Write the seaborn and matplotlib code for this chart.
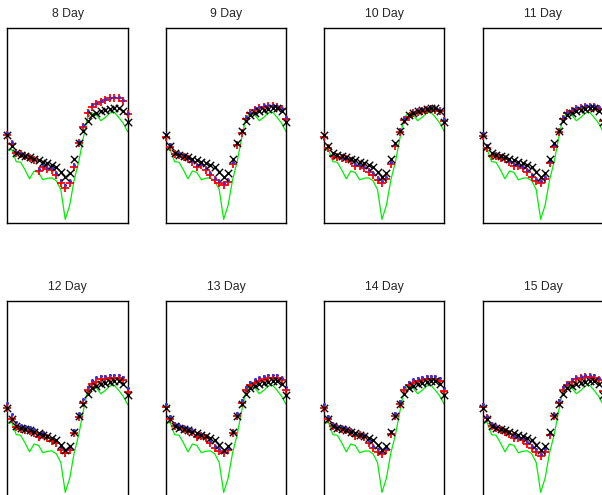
import matplotlib
matplotlib.use("Agg")
import matplotlib.pyplot as plt
import seaborn as sns
import pandas as pd

days = ["8 Day", "9 Day", "10 Day", "11 Day", "12 Day", "13 Day", "14 Day", "15 Day"]
hours = list(range(28))

# observed (green line) - same in every panel
observed = [37, 37.6, 31.3, 31, 27, 22.5, 26.5, 25.8, 22, 22.8, 23, 21.5, 17, 1.7,
            9, 22, 31, 43, 54, 56.3, 55.2, 52.3, 54, 56.3, 56.6, 54, 51, 46.7]

# black x series
model_x = [45, 39.5, 35.5, 34.8, 34.2, 33.5, 32.8, 32, 31.2, 30.5, 29.8, 28.5, 25.8, 23.3,
           25.5, 32.5, 40.8, 46.8, 52, 55.2, 56.5, 57.3, 57.8, 58.4, 58.8, 58.8, 57.3, 51.8]

# red + series, one per panel
red_8 = [45, 40.3, 35.9, 35, 34.2, 33, 32.1, 26.7, 28.7, 27.5, 27, 24.4, 20.5, 17.6,
         20.2, 28.7, 41, 48.9, 56.4, 59.5, 60.9, 62, 62.9, 63.8, 64.1, 64.1, 62.6, 55.7]
red_9 = [44.1, 39, 35.2, 34.7, 33.8, 32.5, 31, 28.7, 29.6, 27, 24.4, 21.9, 20.2, 19.3,
         21, 30, 39.8, 46, 53, 56, 57.8, 58.6, 59.5, 59.8, 59.8, 59.3, 58.3, 53]
red_10 = [43.9, 38.5, 34, 33.7, 33.2, 32.7, 31.5, 29.3, 28.9, 28, 25.9, 24.7, 22, 20.4,
          22.5, 30, 39.5, 46.3, 52.7, 54.4, 56, 57, 57.5, 57.8, 58.2, 58, 57.5, 52]
red_11 = [44.3, 38.3, 34.4, 34, 33.2, 32.7, 31, 29.3, 29, 28.1, 26, 23.5, 21.5, 20.4,
          22.5, 30.7, 39, 46.3, 53, 56.2, 57.5, 58.5, 59, 59.3, 59.3, 59.3, 58.5, 52]
red_12 = [44.8, 39.1, 35.4, 34, 33.7, 33.3, 32.3, 30.3, 31.1, 29.4, 28.3, 27.2, 23.4, 21.7,
          23.4, 32, 40.5, 47.4, 54.2, 57.3, 58.5, 59.7, 59.7, 60.2, 60.2, 60.2, 59.3, 53.3]
red_13 = [45.3, 39.1, 35.7, 35, 34, 33.3, 32.5, 30.3, 30.6, 29.4, 26.8, 24.3, 22.8, 21.7,
          23.4, 32, 40.9, 47.4, 54.2, 56.8, 57.9, 59, 59.6, 60.2, 60.2, 60.2, 59.3, 54.2]
red_14 = [45, 39.5, 35.7, 34.7, 34, 33.5, 32.5, 30.6, 30.9, 30.1, 27.2, 24.4, 22.5, 21.5,
          23.2, 31.8, 40.9, 47.2, 54, 56.6, 57.9, 58.6, 59.2, 59.7, 59.7, 59.7, 58.6, 53.5]
red_15 = [45.6, 39.7, 35.7, 34.5, 33.7, 32.8, 31.5, 29.4, 29.4, 28.5, 26.5, 24.5, 22.6, 20.3,
          22.6, 31.1, 40.9, 47.7, 54.2, 56.8, 58.5, 59.7, 60.2, 60.7, 60.7, 60.5, 59.3, 53.5]

# blue dot series, one per panel
blue_8 = [46, 41.2, 36.5, 35.5, 34.8, 33.6, 32.6, 27.5, 29.5, 28.2, 27.8, 25.5, 22, 19.3,
          21.5, 29.8, 42, 50, 57.2, 60.2, 61.5, 62.6, 63.4, 64.2, 64.5, 64.4, 63, 56.5]
blue_9 = [45.5, 40.5, 36, 35.5, 34.5, 33.3, 31.8, 29.5, 30.3, 27.8, 25.3, 23, 21.3, 20.5,
          22, 31, 41, 47, 54, 57, 58.6, 59.4, 60.2, 60.5, 60.5, 60, 59, 54]
blue_10 = [45, 39.5, 35, 34.5, 33.8, 33.2, 32, 30, 29.5, 28.5, 26.8, 25.5, 23, 21.5,
           23.3, 31, 40.5, 47.3, 53.5, 55.3, 56.8, 57.8, 58.3, 58.6, 59, 58.8, 58, 53]
blue_11 = [46, 40, 35.5, 35, 34, 33.5, 31.8, 30, 29.8, 28.8, 27, 24.5, 22.5, 21.5,
           23.5, 31.5, 40, 47.5, 54, 57, 58.5, 59.5, 60, 60.3, 60.3, 60.2, 59.3, 53]
blue_12 = [47.4, 41.9, 38, 36.2, 35.5, 35, 34, 31.8, 32.5, 30.8, 29.8, 28.7, 25, 23.2,
           25, 33.5, 42.3, 49.5, 56, 59.5, 60.7, 61.4, 61.6, 61.9, 61.9, 61.7, 60.8, 55]
blue_13 = [47, 40.8, 37, 36.2, 35.2, 34.5, 33.6, 31.5, 31.8, 30.6, 28, 25.5, 24, 23,
           24.6, 33.3, 42.3, 49, 55.8, 58.5, 59.6, 60.7, 61.3, 61.9, 61.9, 61.7, 60.6, 55.5]
blue_14 = [46.8, 41, 37, 35.8, 35, 34.5, 33.5, 31.6, 31.7, 31, 28.3, 25.5, 23.8, 22.8,
           24.5, 33, 42.3, 48.8, 55.5, 58.3, 59.6, 60.5, 61, 61.5, 61.6, 61.5, 60.3, 55]
blue_15 = [47, 41, 37, 35.5, 34.7, 33.8, 32.5, 30.4, 30.3, 29.4, 27.5, 25.5, 23.8, 21.5,
           23.7, 32.3, 42, 49, 55.5, 58, 59.8, 61, 61.5, 62, 62, 61.8, 60.5, 55]

reds = [red_8, red_9, red_10, red_11, red_12, red_13, red_14, red_15]
blues = [blue_8, blue_9, blue_10, blue_11, blue_12, blue_13, blue_14, blue_15]

sns.set_style("white")
plt.rcParams['font.family'] = ['Liberation Sans', 'DejaVu Sans']

FW, FH = 602, 495
fig = plt.figure(figsize=(FW / 100, FH / 100), dpi=100)
lefts = [7.3, 165.7, 324.0, 482.7]
tops = [27.7, 300.7]
W, H = 120.4, 195.0

for k, day in enumerate(days):
    r, c = divmod(k, 4)
    ax = fig.add_axes([lefts[c] / FW, (FH - tops[r] - H) / FH, W / FW, H / FH])
    df = pd.DataFrame({"hour": hours, "obs": observed, "red": reds[k],
                       "blue": blues[k], "black": model_x})
    sns.lineplot(data=df, x="hour", y="obs", color="#00ee00", linewidth=0.9, ax=ax, zorder=2)
    sns.scatterplot(data=df, x="hour", y="red", marker="+", s=40, color="red",
                    linewidth=1.3, ax=ax, zorder=3, clip_on=False)
    sns.scatterplot(data=df, x="hour", y="blue", marker="o", s=5, color="#3a2ee0",
                    linewidth=0, ax=ax, zorder=4, clip_on=False)
    sns.scatterplot(data=df, x="hour", y="black", marker="x", s=28, color="black",
                    linewidth=1.0, ax=ax, zorder=5, clip_on=False)
    ax.set_xlim(0, 27)
    ax.set_ylim(0, 100)
    ax.set_xticks([])
    ax.set_yticks([])
    ax.set_xlabel("")
    ax.set_ylabel("")
    for sp in ax.spines.values():
        sp.set_visible(True)
        sp.set_color("black")
        sp.set_linewidth(1.0)
    ax.set_title(day, fontsize=8.8, pad=7.7)

fig.savefig("out.png", dpi=100)
